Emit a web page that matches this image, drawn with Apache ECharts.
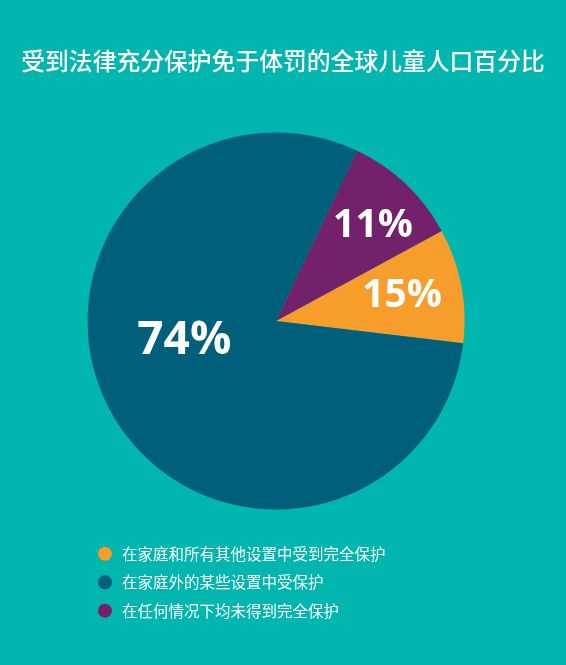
<!DOCTYPE html>
<html><head><meta charset="utf-8">
<script src="https://cdn.jsdelivr.net/npm/echarts@6/dist/echarts.min.js"></script>
<style>html,body{margin:0;padding:0;background:#00B6AF;}#c{width:566px;height:665px;}</style>
</head><body><div id="c"></div>
<script>
var titleText = '受到法律充分保护免于体罚的全球儿童人口百分比';
var categories = ['在家庭和所有其他设置中受到完全保护', '在家庭外的某些设置中受保护', '在任何情况下均未得到完全保护'];
var shareLabels = [15, 74, 11];          // percentages printed on the slices
var sliceValues = [9.8, 80.2, 10.0];     // slice sizes as drawn in the picture
var colors = ['#F69D2C', '#00607B', '#74216B'];

var labelStyles = [
  {fontSize: 39, lineHeight: 14, padding: [0, 0, 0, 61]},
  {fontSize: 46, lineHeight: 54, padding: [0, 13, 0, 0]},
  {fontSize: 39, lineHeight: 50, padding: [0, 0, 0, 60]}
];

var data = categories.map(function (name, i) {
  return {
    name: name,
    value: sliceValues[i],
    itemStyle: {color: colors[i]},
    label: {fontSize: labelStyles[i].fontSize, lineHeight: labelStyles[i].lineHeight, padding: labelStyles[i].padding}
  };
});

var chart = echarts.init(document.getElementById('c'));
chart.setOption({
  backgroundColor: '#00B6AF',
  animation: false,
  title: {
    text: titleText,
    left: 'center',
    top: 44,
    textStyle: {color: '#ffffff', fontSize: 23.8, fontWeight: 500, fontFamily: 'Noto Sans CJK SC'}
  },
  legend: {
    orient: 'vertical',
    left: 93,
    top: 541,
    icon: 'circle',
    itemWidth: 24,
    itemHeight: 14,
    itemGap: 13,
    data: categories,
    textStyle: {color: '#ffffff', fontSize: 15.5, fontFamily: 'Noto Sans CJK SC'}
  },
  series: [{
    type: 'pie',
    center: [276, 321],
    radius: [0, 188.5],
    startAngle: 28.5,
    clockwise: true,
    avoidLabelOverlap: false,
    labelLayout: {hideOverlap: false},
    data: data,
    label: {
      show: true,
      position: 'inside',
      color: '#ffffff',
      fontWeight: 'bold',
      fontFamily: 'Open Sans',
      formatter: function (p) { return shareLabels[p.dataIndex] + '%\n '; }
    },
    labelLine: {show: false},
    itemStyle: {borderWidth: 0},
    emphasis: {disabled: true}
  }]
});
</script></body></html>
